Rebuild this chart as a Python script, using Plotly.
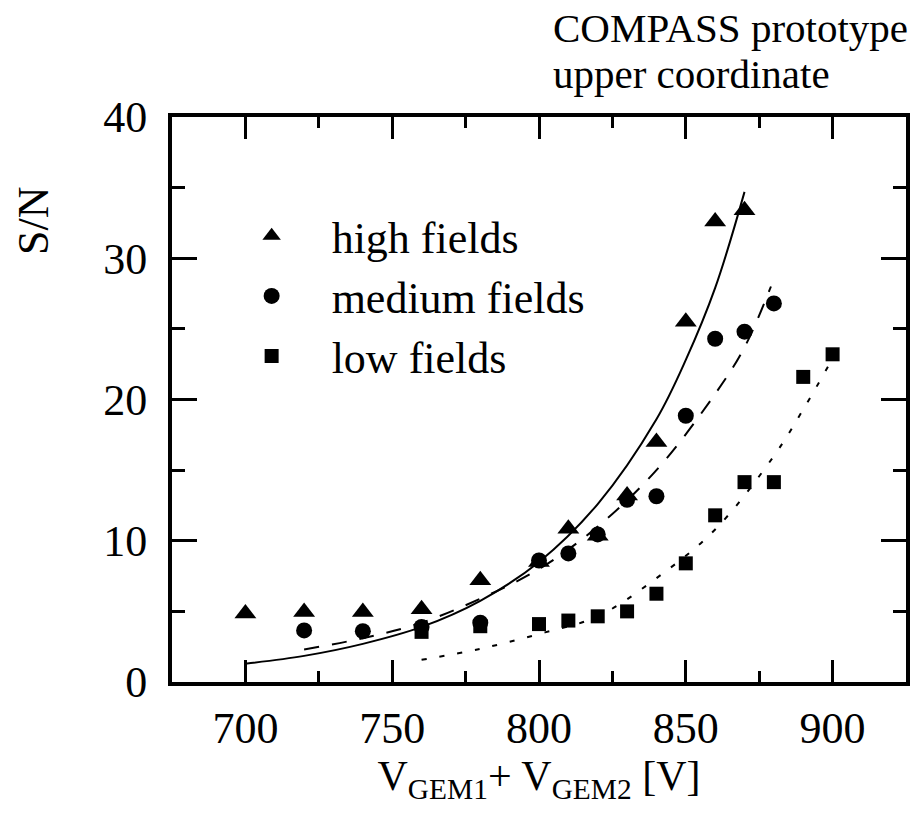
import plotly.graph_objects as go

# measured points
x_high = [700, 720, 740, 760, 780, 800, 810, 820, 830, 840, 850, 860, 870]
y_high = [4.85, 4.95, 4.95, 5.15, 7.2, 8.5, 10.85, 10.35, 13.2, 17.0, 25.5, 32.6, 33.4]

x_med = [720, 740, 760, 780, 800, 810, 820, 830, 840, 850, 860, 870, 880]
y_med = [3.65, 3.6, 3.9, 4.2, 8.6, 9.1, 10.45, 12.9, 13.15, 18.85, 24.3, 24.8, 26.8]

x_low = [760, 780, 800, 810, 820, 830, 840, 850, 860, 870, 880, 890, 900]
y_low = [3.55, 3.95, 4.1, 4.35, 4.65, 5.0, 6.25, 8.4, 11.8, 14.15, 14.15, 21.6, 23.2]

# fitted curves
fit_high_x = [700, 720, 740, 760, 780, 800, 820, 840, 850, 860, 870]
fit_high_y = [1.3, 1.85, 2.7, 3.9, 5.75, 8.5, 12.6, 18.6, 22.8, 27.9, 34.7]

fit_med_x = [720, 740, 760, 780, 800, 820, 840, 860, 870, 879]
fit_med_y = [2.3, 3.1, 4.2, 5.9, 8.0, 11.0, 15.0, 20.4, 23.7, 28.0]

fit_low_x = [760, 780, 800, 820, 840, 860, 880, 890, 900]
fit_low_y = [1.57, 2.35, 3.4, 4.65, 7.35, 10.8, 16.0, 19.3, 22.9]

FONT = "Liberation Serif, Times New Roman, Times, DejaVu Serif, serif"

fig = go.Figure()

# fit lines
fig.add_trace(go.Scatter(x=fit_high_x, y=fit_high_y, mode="lines", line_shape="spline",
                         line=dict(color="black", width=2), showlegend=False, hoverinfo="skip"))
fig.add_trace(go.Scatter(x=fit_med_x, y=fit_med_y, mode="lines", line_shape="spline",
                         line=dict(color="black", width=2, dash="15px,13px"), showlegend=False, hoverinfo="skip"))
fig.add_trace(go.Scatter(x=fit_low_x, y=fit_low_y, mode="lines", line_shape="spline",
                         line=dict(color="black", width=2, dash="5px,13px"), showlegend=False, hoverinfo="skip"))

# data points
fig.add_trace(go.Scatter(x=x_high, y=y_high, mode="markers", name="high fields",
                         marker=dict(symbol="triangle-up", size=19, color="black")))
fig.add_trace(go.Scatter(x=x_med, y=y_med, mode="markers", name="medium fields",
                         marker=dict(symbol="circle", size=16, color="black")))
fig.add_trace(go.Scatter(x=x_low, y=y_low, mode="markers", name="low fields",
                         marker=dict(symbol="square", size=14, color="black")))

axis_common = dict(
    ticks="inside", tickcolor="black", tickwidth=3,
    showline=True, linecolor="black", linewidth=4, mirror="allticks",
    showgrid=False, zeroline=False,
    tickfont=dict(family=FONT, size=44, color="black"),
)

fig.update_xaxes(range=[675, 925], tick0=700, dtick=50, ticklen=22, ticklabelstandoff=4,
                 minor=dict(dtick=25, tick0=700, ticks="inside", ticklen=11, tickwidth=3, tickcolor="black"),
                 title=dict(text="V<sub>GEM1</sub>+ V<sub>GEM2</sub> [V]",
                            font=dict(family=FONT, size=42, color="black"), standoff=2),
                 **axis_common)
fig.update_yaxes(range=[0, 40], tick0=0, dtick=10, ticklen=25, ticklabelstandoff=12,
                 minor=dict(dtick=5, tick0=0, ticks="inside", ticklen=13, tickwidth=3, tickcolor="black"),
                 **axis_common)

fig.add_annotation(text="S/N", textangle=-90, xref="paper", yref="paper", x=-0.188, y=0.816,
                   xanchor="center", yanchor="middle",
                   showarrow=False, font=dict(family=FONT, size=44, color="black"))
fig.add_annotation(text="COMPASS prototype", xref="paper", yref="paper", x=0.516, y=1.158,
                   xanchor="left", yanchor="middle", showarrow=False,
                   font=dict(family=FONT, size=41, color="black"))
fig.add_annotation(text="upper coordinate", xref="paper", yref="paper", x=0.516, y=1.076,
                   xanchor="left", yanchor="middle", showarrow=False,
                   font=dict(family=FONT, size=41, color="black"))

fig.update_layout(
    width=915, height=816,
    margin=dict(l=172, r=5, t=117, b=134),
    paper_bgcolor="white", plot_bgcolor="white",
    font=dict(family=FONT, color="black"),
    legend=dict(x=0.054, y=0.852, xanchor="left", yanchor="top",
                bgcolor="rgba(0,0,0,0)", itemwidth=110,
                font=dict(family=FONT, size=44, color="black")),
)

# page body has a default 8px margin; drop it so the figure sits at the corner
fig.write_html("out.html", config={"displayModeBar": False},
               post_script="document.body.style.margin='0';")
